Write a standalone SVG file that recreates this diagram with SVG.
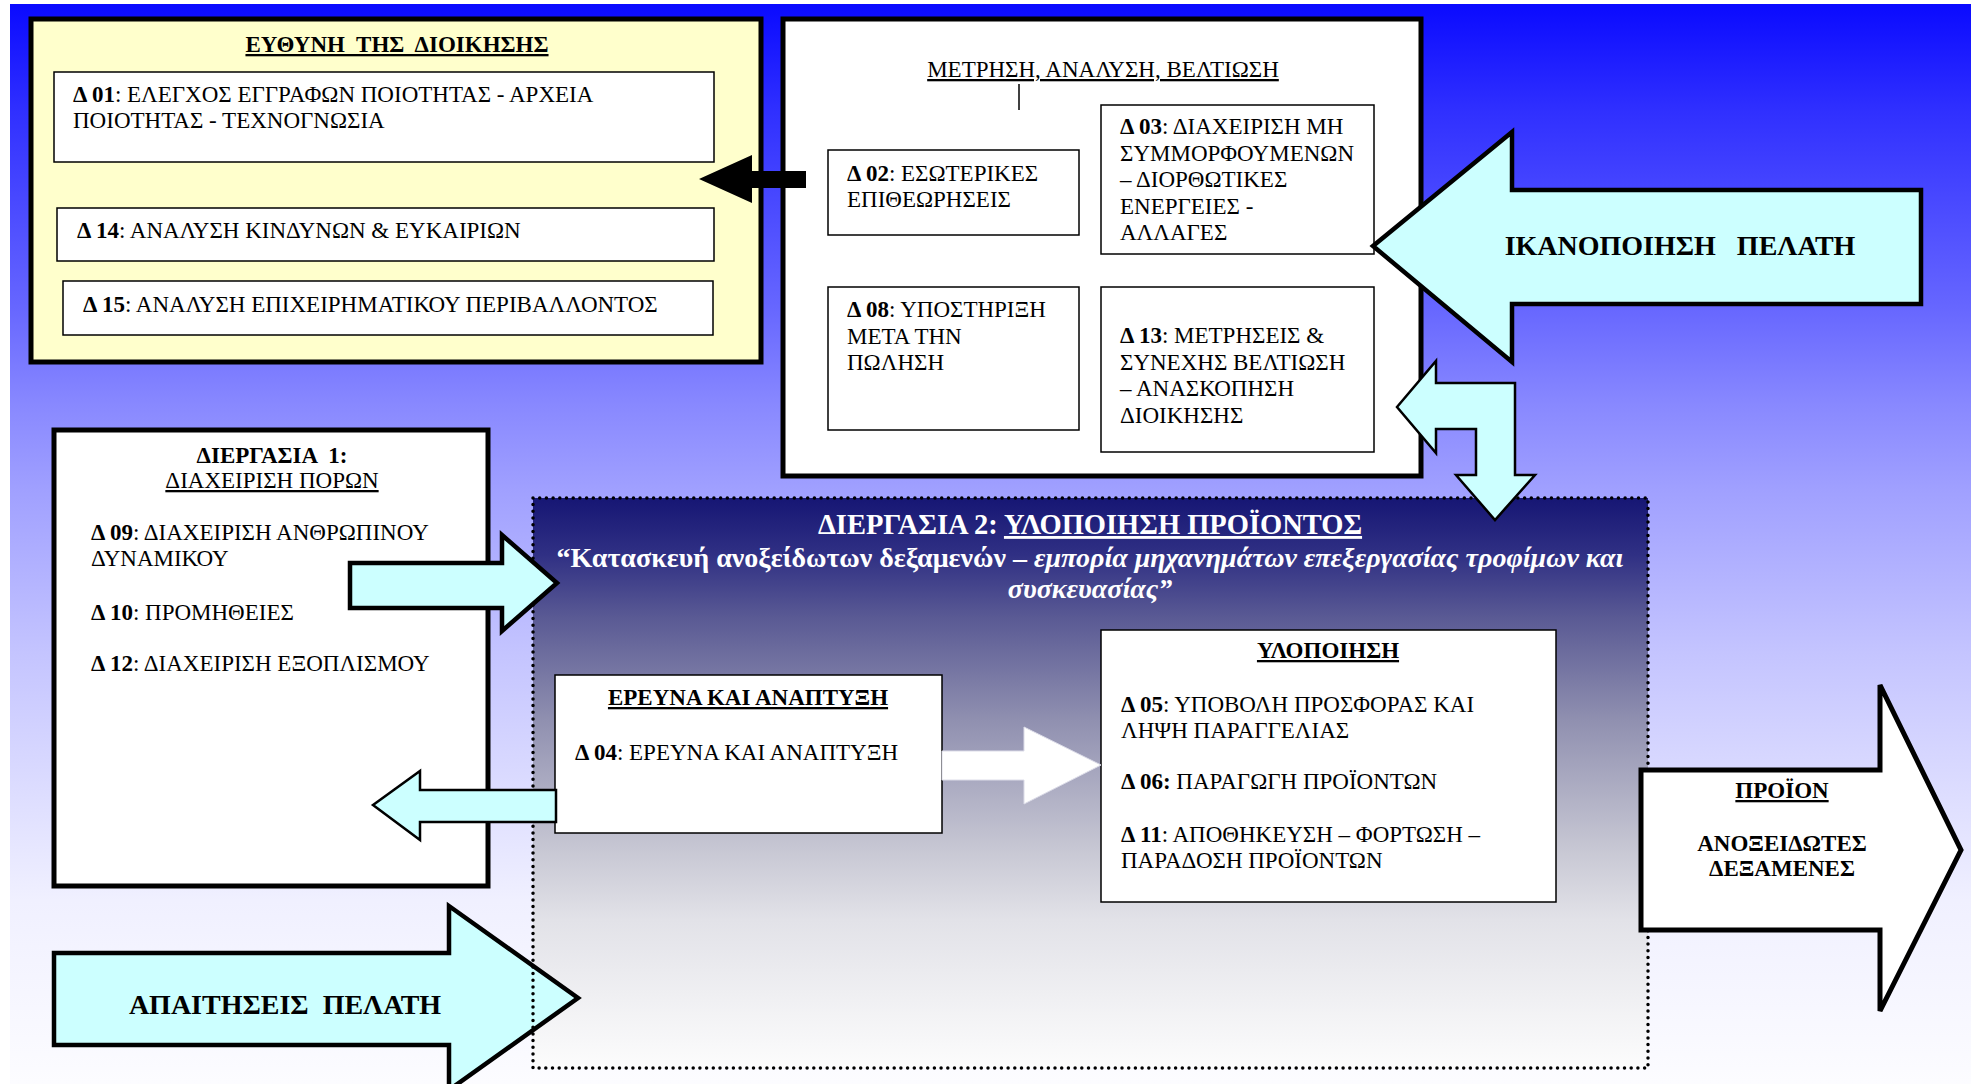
<svg xmlns="http://www.w3.org/2000/svg" width="1975" height="1084" viewBox="0 0 1975 1084">
<defs>
<linearGradient id="bgGrad" x1="0" y1="0" x2="0" y2="1">
<stop offset="0" stop-color="#0a0aff"/>
<stop offset="0.1" stop-color="#3030ff"/>
<stop offset="0.28" stop-color="#6666ff"/>
<stop offset="0.37" stop-color="#8888ff"/>
<stop offset="0.45" stop-color="#a0a0ff"/>
<stop offset="0.6" stop-color="#c4c4ff"/>
<stop offset="0.83" stop-color="#f0f0ff"/>
<stop offset="1" stop-color="#fcfcff"/>
</linearGradient>
<linearGradient id="p2Grad" x1="0" y1="0" x2="0" y2="1">
<stop offset="0" stop-color="#161674"/>
<stop offset="0.1" stop-color="#303084"/>
<stop offset="0.21" stop-color="#5a5a94"/>
<stop offset="0.39" stop-color="#9090b0"/>
<stop offset="0.62" stop-color="#c8c8d4"/>
<stop offset="0.74" stop-color="#e2e2e8"/>
<stop offset="1" stop-color="#fcfcfc"/>
</linearGradient>
</defs>
<style>
.t{font-family:"Liberation Serif","DejaVu Serif",serif;font-size:23px;fill:#000}
.b{font-weight:bold}
.i{font-style:italic}
.u{text-decoration:underline}
.big{font-size:28px;font-weight:bold}
.sub{font-size:28px;font-weight:bold}
.w{fill:#fff}
.thick{fill:#fff;stroke:#000;stroke-width:5}
.thin{fill:#fff;stroke:#000;stroke-width:1.5}
.cyan{fill:#ccffff;stroke:#000;stroke-linejoin:miter}
.dots{fill:none;stroke:#000;stroke-width:3.5;stroke-linecap:round;stroke-dasharray:0 6.7}
</style>
<rect x="10" y="4" width="1961" height="1080" fill="url(#bgGrad)"/>

<g id="management">
<rect x="31" y="19" width="730" height="343" fill="#ffffcc" stroke="#000" stroke-width="5"/>
<text class="t b u" x="397" y="52" text-anchor="middle" xml:space="preserve">ΕΥΘΥΝΗ  ΤΗΣ  ΔΙΟΙΚΗΣΗΣ</text>
<rect class="thin" x="54" y="72" width="660" height="90"/>
<text class="t" x="73" y="102"><tspan class="b">Δ 01</tspan>: ΕΛΕΓΧΟΣ ΕΓΓΡΑΦΩΝ ΠΟΙΟΤΗΤΑΣ - ΑΡΧΕΙΑ</text>
<text class="t" x="73" y="128">ΠΟΙΟΤΗΤΑΣ - ΤΕΧΝΟΓΝΩΣΙΑ</text>
<rect class="thin" x="57" y="208" width="657" height="53"/>
<text class="t" x="77" y="238"><tspan class="b">Δ 14</tspan>: ΑΝΑΛΥΣΗ ΚΙΝΔΥΝΩΝ &amp; ΕΥΚΑΙΡΙΩΝ</text>
<rect class="thin" x="63" y="281" width="650" height="54"/>
<text class="t" x="83" y="312"><tspan class="b">Δ 15</tspan>: ΑΝΑΛΥΣΗ ΕΠΙΧΕΙΡΗΜΑΤΙΚΟΥ ΠΕΡΙΒΑΛΛΟΝΤΟΣ</text>
</g>

<g id="measurement">
<rect class="thick" x="783" y="19" width="638" height="457"/>
<text class="t u" x="1103" y="77" text-anchor="middle">ΜΕΤΡΗΣΗ, ΑΝΑΛΥΣΗ, ΒΕΛΤΙΩΣΗ</text>
<line x1="1019" y1="84" x2="1019" y2="110" stroke="#000" stroke-width="1.5"/>
<rect class="thin" x="828" y="150" width="251" height="85"/>
<text class="t" x="847" y="181"><tspan class="b">Δ 02</tspan>: ΕΣΩΤΕΡΙΚΕΣ</text>
<text class="t" x="847" y="207">ΕΠΙΘΕΩΡΗΣΕΙΣ</text>
<rect class="thin" x="1101" y="105" width="273" height="149"/>
<text class="t" x="1120" y="134"><tspan class="b">Δ 03</tspan>: ΔΙΑΧΕΙΡΙΣΗ ΜΗ</text>
<text class="t" x="1120" y="160.5">ΣΥΜΜΟΡΦΟΥΜΕΝΩΝ</text>
<text class="t" x="1120" y="187">– ΔΙΟΡΘΩΤΙΚΕΣ</text>
<text class="t" x="1120" y="213.5">ΕΝΕΡΓΕΙΕΣ -</text>
<text class="t" x="1120" y="240">ΑΛΛΑΓΕΣ</text>
<rect class="thin" x="828" y="287" width="251" height="143"/>
<text class="t" x="847" y="317"><tspan class="b">Δ 08</tspan>: ΥΠΟΣΤΗΡΙΞΗ</text>
<text class="t" x="847" y="343.5">ΜΕΤΑ ΤΗΝ</text>
<text class="t" x="847" y="370">ΠΩΛΗΣΗ</text>
<rect class="thin" x="1101" y="287" width="273" height="165"/>
<text class="t" x="1120" y="343"><tspan class="b">Δ 13</tspan>: ΜΕΤΡΗΣΕΙΣ &amp;</text>
<text class="t" x="1120" y="369.5">ΣΥΝΕΧΗΣ ΒΕΛΤΙΩΣΗ</text>
<text class="t" x="1120" y="396">– ΑΝΑΣΚΟΠΗΣΗ</text>
<text class="t" x="1120" y="422.5">ΔΙΟΙΚΗΣΗΣ</text>
</g>

<g id="process1">
<rect class="thick" x="54" y="430" width="434" height="456"/>
<text class="t b" x="272" y="463" text-anchor="middle" xml:space="preserve">ΔΙΕΡΓΑΣΙΑ  1:</text>
<text class="t u" x="272" y="488" text-anchor="middle">ΔΙΑΧΕΙΡΙΣΗ ΠΟΡΩΝ</text>
<text class="t" x="91" y="540"><tspan class="b">Δ 09</tspan>: ΔΙΑΧΕΙΡΙΣΗ ΑΝΘΡΩΠΙΝΟΥ</text>
<text class="t" x="91" y="566">ΔΥΝΑΜΙΚΟΥ</text>
<text class="t" x="91" y="620"><tspan class="b">Δ 10</tspan>: ΠΡΟΜΗΘΕΙΕΣ</text>
<text class="t" x="91" y="671"><tspan class="b">Δ 12</tspan>: ΔΙΑΧΕΙΡΙΣΗ ΕΞΟΠΛΙΣΜΟΥ</text>
</g>

<g id="process2">
<rect x="533" y="498" width="1115" height="570" fill="url(#p2Grad)"/>
<text class="t w" x="1090" y="534" text-anchor="middle" style="font-size:28.5px;font-weight:bold">ΔΙΕΡΓΑΣΙΑ 2: <tspan class="u">ΥΛΟΠΟΙΗΣΗ ΠΡΟΪΟΝΤΟΣ</tspan></text>
<text class="t sub w" x="1090" y="567" text-anchor="middle">“Κατασκευή ανοξείδωτων δεξαμενών – <tspan class="i">εμπορία μηχανημάτων επεξεργασίας τροφίμων και</tspan></text>
<text class="t sub i w" x="1090" y="598" text-anchor="middle">συσκευασίας”</text>
</g>

<g id="research">
<rect class="thin" x="555" y="675" width="387" height="158"/>
<text class="t b u" x="748" y="705" text-anchor="middle">ΕΡΕΥΝΑ ΚΑΙ ΑΝΑΠΤΥΞΗ</text>
<text class="t" x="575" y="760"><tspan class="b">Δ 04</tspan>: ΕΡΕΥΝΑ ΚΑΙ ΑΝΑΠΤΥΞΗ</text>
</g>

<g id="realization">
<rect class="thin" x="1101" y="630" width="455" height="272"/>
<text class="t b u" x="1328" y="658" text-anchor="middle">ΥΛΟΠΟΙΗΣΗ</text>
<text class="t" x="1121" y="712"><tspan class="b">Δ 05</tspan>: ΥΠΟΒΟΛΗ ΠΡΟΣΦΟΡΑΣ ΚΑΙ</text>
<text class="t" x="1121" y="738">ΛΗΨΗ ΠΑΡΑΓΓΕΛΙΑΣ</text>
<text class="t" x="1121" y="789"><tspan class="b">Δ 06:</tspan> ΠΑΡΑΓΩΓΗ ΠΡΟΪΟΝΤΩΝ</text>
<text class="t" x="1121" y="842"><tspan class="b">Δ 11</tspan>: ΑΠΟΘΗΚΕΥΣΗ – ΦΟΡΤΩΣΗ –</text>
<text class="t" x="1121" y="868">ΠΑΡΑΔΟΣΗ ΠΡΟΪΟΝΤΩΝ</text>
</g>

<g id="customer-requirements">
<polygon class="cyan" stroke-width="4.5" points="54,953 449,953 449,906 578,998 449,1090 449,1045 54,1045"/>
<text class="t big" x="285" y="1014" text-anchor="middle" xml:space="preserve">ΑΠΑΙΤΗΣΕΙΣ  ΠΕΛΑΤΗ</text>
</g>

<g id="process2-border">
<rect class="dots" x="533" y="498" width="1115" height="570"/>
</g>

<g id="customer-satisfaction">
<polygon class="cyan" stroke-width="4.5" points="1373,246 1512,132 1512,190 1921,190 1921,304 1512,304 1512,362"/>
<text class="t big" x="1680" y="255" text-anchor="middle" xml:space="preserve">ΙΚΑΝΟΠΟΙΗΣΗ   ΠΕΛΑΤΗ</text>
</g>

<g id="product">
<polygon fill="#fff" stroke="#000" stroke-width="5" points="1641,770 1880,770 1880,685 1961,850 1880,1011 1880,930 1641,930"/>
<text class="t b u" x="1782" y="798" text-anchor="middle">ΠΡΟΪΟΝ</text>
<text class="t b" x="1782" y="851" text-anchor="middle">ΑΝΟΞΕΙΔΩΤΕΣ</text>
<text class="t b" x="1782" y="876" text-anchor="middle">ΔΕΞΑΜΕΝΕΣ</text>
</g>

<g id="connectors">
<polygon fill="#000" points="699,179 752,155 752,171 806,171 806,188 752,188 752,203"/>
<polygon class="cyan" stroke-width="4.5" points="350,563 502,563 502,535 557,583 502,631 502,608 350,608"/>
<polygon class="cyan" stroke-width="2.5" points="373,805 420,771 420,790 556,790 556,822 420,822 420,840"/>
<polygon fill="#fff" stroke="#dcdce8" stroke-width="1" points="942,751 1024,751 1024,727 1101,765 1024,804 1024,780 942,780"/>
<polygon class="cyan" stroke-width="2.5" points="1397,407 1436,361 1436,383 1515,383 1515,475 1535,475 1495,520 1456,475 1476,475 1476,429 1436,429 1436,453"/>
</g>
</svg>
